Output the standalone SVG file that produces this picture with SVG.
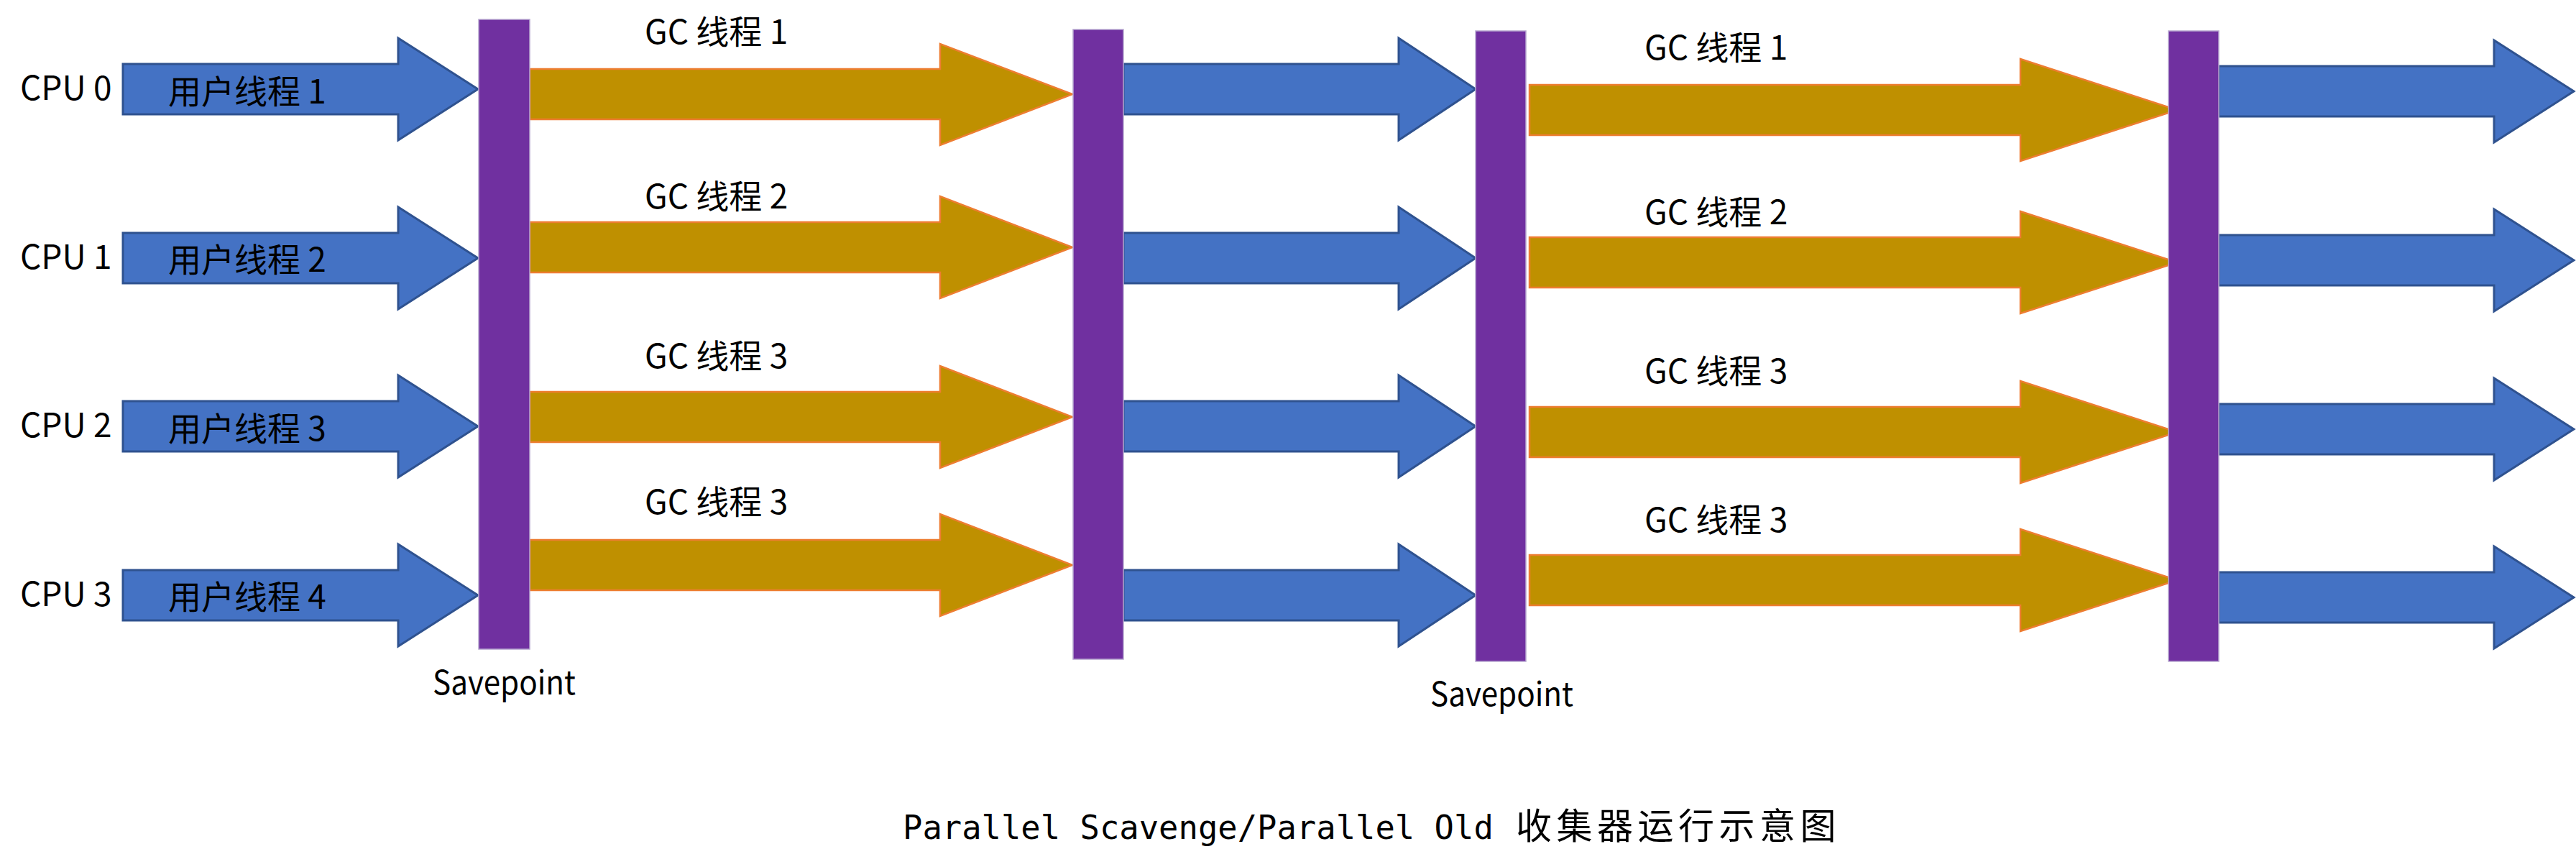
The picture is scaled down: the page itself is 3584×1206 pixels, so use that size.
<svg xmlns="http://www.w3.org/2000/svg" width="3584" height="1206" viewBox="0 0 3584 1206">
<style>
.bg{fill:#FFFFFF}
.bar{fill:#7030A0;stroke:#B7A6CF;stroke-width:1.5}
.blue{fill:#4472C4;stroke:#2F528F;stroke-width:3;stroke-linejoin:miter}
.gold{fill:#BF9000;stroke:#ED7D31;stroke-width:2.5;stroke-linejoin:miter}
.lbl{font-family:"Noto Sans CJK SC","Noto Sans",sans-serif;font-size:46px;fill:#000000}
.title{font-family:"DejaVu Sans Mono","Liberation Mono",monospace;font-size:45.5px;fill:#000000}
.titlecjk{font-family:"Noto Sans CJK SC",sans-serif;font-size:50px}
</style>
<rect class="bg" x="0" y="0" width="3584" height="1206"/>

<g id="connectors">
  <g id="user-threads-1">
    <path class="blue" d="M171,89 H554 V53 L665,124 L554,195 V159 H171 Z"/>
    <path class="blue" d="M171,324 H554 V288 L665,359 L554,430 V394 H171 Z"/>
    <path class="blue" d="M171,558 H554 V522 L665,593 L554,664 V628 H171 Z"/>
    <path class="blue" d="M171,793 H554 V757 L665,828 L554,899 V863 H171 Z"/>
  </g>
  <g id="gc-threads-1">
    <path class="gold" d="M737,96 H1308 V61 L1492,131 L1308,202 V166 H737 Z"/>
    <path class="gold" d="M737,309 H1308 V273 L1492,344 L1308,415 V379 H737 Z"/>
    <path class="gold" d="M737,545 H1308 V509 L1492,580 L1308,651 V615 H737 Z"/>
    <path class="gold" d="M737,751 H1308 V715 L1492,786 L1308,857 V821 H737 Z"/>
  </g>
  <g id="user-threads-2">
    <path class="blue" d="M1563,89 H1946 V53 L2053,124 L1946,195 V159 H1563 Z"/>
    <path class="blue" d="M1563,324 H1946 V288 L2053,359 L1946,430 V394 H1563 Z"/>
    <path class="blue" d="M1563,558 H1946 V522 L2053,593 L1946,664 V628 H1563 Z"/>
    <path class="blue" d="M1563,793 H1946 V757 L2053,828 L1946,899 V863 H1563 Z"/>
  </g>
  <g id="gc-threads-2">
    <path class="gold" d="M2128,118 H2811 V82 L3029,153 L2811,224 V188 H2128 Z"/>
    <path class="gold" d="M2128,330 H2811 V294 L3029,365 L2811,436 V400 H2128 Z"/>
    <path class="gold" d="M2128,566 H2811 V530 L3029,601 L2811,672 V636 H2128 Z"/>
    <path class="gold" d="M2128,772 H2811 V736 L3029,807 L2811,878 V842 H2128 Z"/>
  </g>
  <g id="user-threads-3">
    <path class="blue" d="M3087,92 H3470 V56 L3581,127 L3470,198 V162 H3087 Z"/>
    <path class="blue" d="M3087,327 H3470 V291 L3581,362 L3470,433 V397 H3087 Z"/>
    <path class="blue" d="M3087,562 H3470 V526 L3581,597 L3470,668 V632 H3087 Z"/>
    <path class="blue" d="M3087,796 H3470 V760 L3581,831 L3470,902 V866 H3087 Z"/>
  </g>
</g>

<g id="savepoint-1">
  <rect class="bar" x="666" y="27" width="71" height="876"/>
  <text class="lbl" x="602" y="966" textLength="199" lengthAdjust="spacingAndGlyphs">Savepoint</text>
</g>
<g id="barrier-2">
  <rect class="bar" x="1493" y="41" width="70" height="876"/>
</g>
<g id="savepoint-2">
  <rect class="bar" x="2053" y="43" width="70" height="877"/>
  <text class="lbl" x="1990" y="982" textLength="199" lengthAdjust="spacingAndGlyphs">Savepoint</text>
</g>
<g id="barrier-4">
  <rect class="bar" x="3017" y="43" width="70" height="877"/>
</g>

<g id="cpu-labels">
  <text id="cpu0" class="lbl" x="28" y="139">CPU 0</text>
  <text id="cpu1" class="lbl" x="28" y="374">CPU 1</text>
  <text id="cpu2" class="lbl" x="28" y="608">CPU 2</text>
  <text id="cpu3" class="lbl" x="28" y="843">CPU 3</text>
</g>

<g id="thread-labels">
  <text class="lbl" x="234" y="144">用户线程 1</text>
  <text class="lbl" x="234" y="378">用户线程 2</text>
  <text class="lbl" x="234" y="613">用户线程 3</text>
  <text class="lbl" x="234" y="847">用户线程 4</text>
  <text class="lbl" x="897" y="61">GC 线程 1</text>
  <text class="lbl" x="897" y="290">GC 线程 2</text>
  <text class="lbl" x="897" y="512">GC 线程 3</text>
  <text class="lbl" x="897" y="715">GC 线程 3</text>
  <text class="lbl" x="2288" y="83">GC 线程 1</text>
  <text class="lbl" x="2288" y="312">GC 线程 2</text>
  <text class="lbl" x="2288" y="533">GC 线程 3</text>
  <text class="lbl" x="2288" y="740">GC 线程 3</text>
</g>

<g id="title">
  <text class="title" x="1256" y="1167">Parallel Scavenge/Parallel Old <tspan class="titlecjk" x="2109" letter-spacing="6.5">收集器运行示意图</tspan></text>
</g>
</svg>
